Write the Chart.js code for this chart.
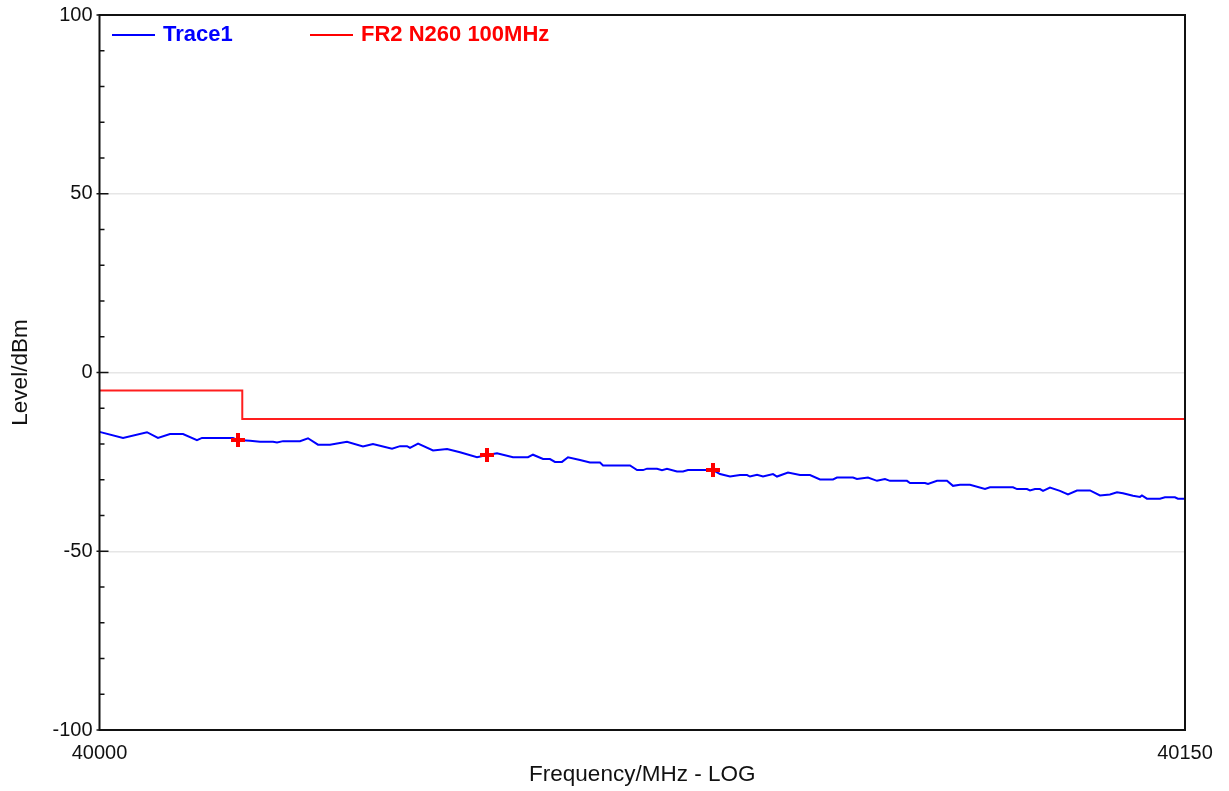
<!DOCTYPE html>
<html>
<head>
<meta charset="utf-8">
<title>Level vs Frequency</title>
<script src="https://cdn.jsdelivr.net/npm/chart.js@4"></script>
<style>
    html, body { margin: 0; padding: 0; background: #fff; }
    #wrap { width: 1229px; height: 791px; position: relative; }
</style>
</head>
<body>
<div id="wrap"><canvas id="main-chart"></canvas></div>
<script>
// trace values (offset in MHz from 40000, level in dBm)
const traceOffset = [0, 3.25, 6.56, 8.08, 9.74, 11.54, 13.47, 14.16, 18.45, 19.14, 20.8, 22.18, 23.98, 24.53,
    25.36, 27.71, 28.81, 30.19, 31.85, 34.2, 36.41, 37.79, 40.42, 41.53, 42.5, 42.91, 44.02, 46.09, 48.03,
    49.82, 52.17, 53.55, 54.93, 57.14, 59.21, 59.9, 61.29, 62.25, 62.94, 63.91, 64.74, 66.4, 67.78, 69.16,
    69.58, 73.31, 74.28, 75.11, 75.66, 77.04, 77.73, 78.42, 79.8, 80.63, 81.32, 84.78, 85.75, 87.13, 88.51,
    89.48, 89.89, 90.86, 91.69, 93.07, 93.62, 95.14, 96.8, 98.18, 99.56, 101.36, 101.91, 104.12, 104.67,
    106.19, 107.44, 108.54, 109.23, 111.58, 112.0, 114.07, 114.49, 115.73, 117.11, 117.94, 118.91, 120.29,
    122.36, 123.05, 126.23, 126.79, 128.17, 128.58, 129.27, 129.96, 130.38, 131.34, 132.72, 133.83, 135.07,
    136.87, 138.25, 139.63, 140.6, 141.43, 142.81, 143.78, 144.05, 144.74, 146.54, 147.23, 148.61, 149.02, 150];
const traceLevel = [-16.6, -18.3, -16.7, -18.3, -17.2, -17.2, -18.9, -18.3, -18.3, -18.9, -19.1, -19.4, -19.4, -19.6,
    -19.2, -19.2, -18.4, -20.2, -20.2, -19.4, -20.7, -20.0, -21.3, -20.6, -20.6, -21.1, -19.9, -21.8, -21.4,
    -22.3, -23.7, -23.1, -22.6, -23.7, -23.7, -23.0, -24.2, -24.2, -25.0, -25.0, -23.7, -24.5, -25.2, -25.2,
    -26.0, -26.0, -27.3, -27.3, -26.9, -26.9, -27.3, -26.9, -27.7, -27.7, -27.3, -27.3, -28.4, -29.1, -28.7,
    -28.7, -29.1, -28.6, -29.1, -28.4, -29.1, -28.0, -28.7, -28.7, -29.9, -29.9, -29.4, -29.4, -29.8,
    -29.4, -30.3, -29.8, -30.3, -30.3, -30.9, -30.9, -31.2, -30.3, -30.3, -31.7, -31.4, -31.4,
    -32.6, -32.1, -32.1, -32.6, -32.6, -33.0, -32.6, -32.6, -33.1, -32.2, -33.1, -34.1, -33.0,
    -33.0, -34.4, -34.1, -33.5, -33.8, -34.5, -34.8, -34.4, -35.3, -35.3, -34.9, -34.9, -35.3, -35.3];

// limit line
const limitOffset = [0, 19.73, 19.73, 150];
const limitLevel = [-5, -5, -13, -13];

// peak markers
const markerOffset = [19.14, 53.55, 84.78];
const markerLevel = [-18.9, -23.1, -27.3];

const startFreq = 40000;
const xTicks = [40000, 40150];
const yMajor = [100, 50, 0, -50, -100];

const legendItems = [
    { label: 'Trace1', color: 'rgb(0, 0, 255)', x: 112 },
    { label: 'FR2 N260 100MHz', color: 'rgb(255, 0, 0)', x: 310 },
];

const FONT = "'Liberation Sans', Arial, sans-serif";
const toPoints = (xs, ys) => xs.map((x, i) => ({ x: startFreq + x, y: ys[i] }));

// box round the plot, inward ticks and the in-plot legend
const framePlugin = {
    id: 'frame',
    afterDraw(chart) {
        const { ctx, chartArea: a, scales } = chart;
        ctx.save();
        ctx.strokeStyle = '#111';
        ctx.lineWidth = 1.5;
        for (let v = -100; v <= 100; v += 10) {
            const y = scales.y.getPixelForValue(v);
            const major = v % 50 === 0;
            ctx.beginPath();
            ctx.moveTo(a.left - (major ? 3 : 0), y);
            ctx.lineTo(a.left + (major ? 9 : 5), y);
            ctx.stroke();
        }
        ctx.lineWidth = 2;
        ctx.strokeRect(a.left, a.top, a.right - a.left, a.bottom - a.top);

        ctx.font = 'bold 22px ' + FONT;
        ctx.textBaseline = 'middle';
        legendItems.forEach(item => {
            const y = a.top + 20;
            ctx.strokeStyle = item.color;
            ctx.lineWidth = 2;
            ctx.beginPath();
            ctx.moveTo(item.x, y);
            ctx.lineTo(item.x + 43, y);
            ctx.stroke();
            ctx.fillStyle = item.color;
            ctx.fillText(item.label, item.x + 51, y);
        });
        ctx.restore();
    }
};

const config = {
    type: 'line',
    data: {
        datasets: [{
            label: 'Trace1',
            data: toPoints(traceOffset, traceLevel),
            borderColor: 'rgb(0, 0, 255)',
            borderWidth: 2,
            pointRadius: 0,
            tension: 0,
            order: 2,
        }, {
            label: 'FR2 N260 100MHz',
            data: toPoints(limitOffset, limitLevel),
            borderColor: 'rgb(255, 30, 30)',
            borderWidth: 2,
            pointRadius: 0,
            tension: 0,
            order: 3,
        }, {
            label: 'Markers',
            type: 'scatter',
            data: toPoints(markerOffset, markerLevel),
            pointStyle: 'cross',
            pointRadius: 7,
            borderWidth: 4,
            borderColor: 'rgb(255, 0, 0)',
            backgroundColor: 'rgb(255, 0, 0)',
            order: 1,
        }],
    },
    options: {
        responsive: true,
        maintainAspectRatio: false,
        animation: false,
        devicePixelRatio: 1,
        layout: { padding: { top: 15, right: 44, left: 0, bottom: 0 } },
        plugins: {
            legend: { display: false },
            tooltip: { enabled: false },
        },
        scales: {
            x: {
                type: 'linear',
                min: 40000,
                max: 40150,
                afterBuildTicks: scale => { scale.ticks = xTicks.map(v => ({ value: v })); },
                afterFit: scale => { scale.height = 61; },
                grid: { display: false, drawTicks: false },
                border: { display: false },
                ticks: {
                    autoSkip: false,
                    maxRotation: 0,
                    padding: 11,
                    color: '#111',
                    font: { family: FONT, size: 20 },
                    callback: v => String(v),
                },
                title: {
                    display: true,
                    text: 'Frequency/MHz - LOG',
                    color: '#111',
                    font: { family: FONT, size: 22.5 },
                    padding: { top: 0, bottom: 3 },
                },
            },
            y: {
                min: -100,
                max: 100,
                afterFit: scale => {
                    scale.width = 99.5;
                    scale.paddingTop = 0;
                    scale.paddingBottom = 0;
                },
                grid: {
                    drawTicks: false,
                    color: ctx => (ctx.tick && yMajor.includes(ctx.tick.value) ? '#e6e6e6' : 'rgba(0,0,0,0)'),
                    lineWidth: 1.5,
                },
                border: { display: false },
                ticks: {
                    stepSize: 10,
                    padding: 7,
                    color: '#111',
                    font: { family: FONT, size: 20 },
                    callback: v => (yMajor.includes(v) ? String(v) : ''),
                },
                title: {
                    display: true,
                    text: 'Level/dBm',
                    color: '#111',
                    font: { family: FONT, size: 22.5 },
                    padding: { top: 7, bottom: 0 },
                },
            },
        },
    },
    plugins: [framePlugin],
};

const chart = new Chart(document.getElementById('main-chart'), config);
</script>
</body>
</html>
